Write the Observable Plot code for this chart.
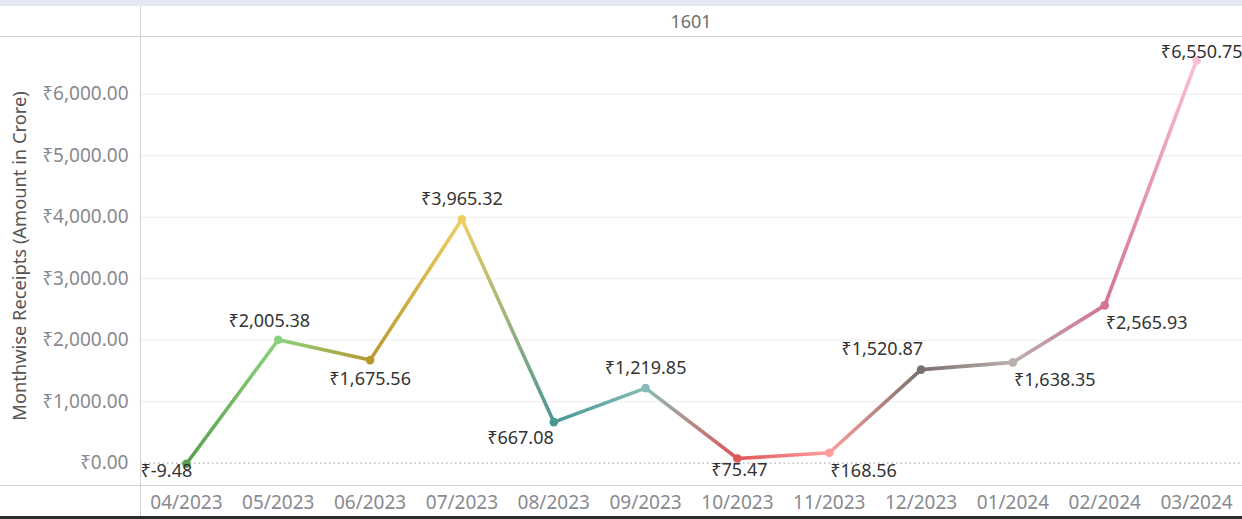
<!DOCTYPE html>
<html>
<head>
<meta charset="utf-8">
<script src="https://cdn.jsdelivr.net/npm/d3@7"></script>
<script src="https://cdn.jsdelivr.net/npm/@observablehq/plot@0.6"></script>
<style>
  html, body { margin: 0; padding: 0; background: #fff; }
  #wrap { position: relative; width: 1242px; height: 519px; overflow: hidden; background: #fff; font-family: "Noto Sans", sans-serif; }
  .band { position: absolute; left: 0; top: 0; width: 1242px; height: 6px; background: #e3e7f0; }
  .header { position: absolute; left: 140px; top: 6px; width: 1102px; height: 30px; line-height: 31px; text-align: center; color: #6e6e6e; font-size: 18px; border-bottom: 1px solid #d2d2d2; }
  .hline { position: absolute; left: 0; width: 140px; height: 1px; background: #d2d2d2; }
  .vline { position: absolute; left: 140px; top: 6px; width: 1px; height: 510px; background: #d2d2d2; }
  .bline { position: absolute; left: 0; top: 485px; width: 1242px; height: 1px; background: #d2d2d2; }
  .bottom { position: absolute; left: 0; top: 516px; width: 1242px; height: 3px; background: #2b2b2b; }
  .ytitle { position: absolute; left: 18px; top: 256px; transform: translate(-50%, -50%) rotate(-90deg); white-space: nowrap; color: #555; font-size: 18.3px; }
  #chart { position: absolute; left: 0; top: 37px; }
</style>
</head>
<body>
<div id="wrap">
  <div class="band"></div>
  <div class="header" id="header"></div>
  <div class="hline" style="top:36px"></div>
  <div class="ytitle" id="ytitle"></div>
  <div id="chart"></div>
  <div class="bline"></div>
  <div class="vline"></div>
  <div class="bottom"></div>
</div>
<script>
const headerLabel = "1601";
const yTitle = "Monthwise Receipts (Amount in Crore)";
const months = ["04/2023","05/2023","06/2023","07/2023","08/2023","09/2023","10/2023","11/2023","12/2023","01/2024","02/2024","03/2024"];
const receipts = [-9.48, 2005.38, 1675.56, 3965.32, 667.08, 1219.85, 75.47, 168.56, 1520.87, 1638.35, 2565.93, 6550.75];
const pointColors = ["#59a14f","#8cd17d","#b6992d","#f1ce63","#499894","#86bcb6","#e15759","#ff9d9a","#79706e","#bab0ac","#d37295","#fabfd2"];
const labelPlacement = ["paneLeft","aboveLeft","below","above","belowEnd","above","belowNear","belowStart","aboveEnd","belowStart","belowStart","paneRight"];
const yTicks = [0, 1000, 2000, 3000, 4000, 5000, 6000];

// label placement styles (Tableau-like collision avoidance)
const placements = {
  above:      {textAnchor: "middle", dx: 0,   dy: -20},
  aboveLeft:  {textAnchor: "middle", dx: -9,  dy: -19},
  aboveEnd:   {textAnchor: "end",    dx: 2,   dy: -20},
  below:      {textAnchor: "middle", dx: 0,   dy: 19},
  belowNear:  {textAnchor: "middle", dx: 2,   dy: 12},
  belowStart: {textAnchor: "start",  dx: 1,   dy: 18},
  belowEnd:   {textAnchor: "end",    dx: 0,   dy: 16},
  paneLeft:   {textAnchor: "start",  dx: -46, dy: 8},
  paneRight:  {textAnchor: "end",    dx: 46,  dy: -8}
};

document.getElementById("header").textContent = headerLabel;
document.getElementById("ytitle").textContent = yTitle;

const rupee = v => "₹" + d3.format(",.2f")(v).replace("−", "-");

const data = months.map((m, i) => ({month: m, value: receipts[i], color: pointColors[i], place: labelPlacement[i], label: rupee(receipts[i])}));
const segs = d3.pairs(data).map(([a, b], i) => ({a, b, id: "seg" + i}));

const labelMarks = Object.entries(placements).map(([key, p]) =>
  Plot.text(data.filter(d => d.place === key), {
    x: "month", y: "value", text: "label",
    textAnchor: p.textAnchor, dx: p.dx, dy: p.dy,
    fill: "#333", fontSize: 18
  })
);

const chart = Plot.plot({
  width: 1242,
  height: 482,
  marginLeft: 140,
  marginRight: 0,
  marginTop: 0,
  marginBottom: 34,
  style: {fontFamily: "'Noto Sans', sans-serif", fontSize: "19px", color: "#878a90", background: "transparent", overflow: "visible"},
  x: {type: "point", domain: months, padding: 0.5, round: false, label: null, tickSize: 0, tickPadding: 10},
  y: {domain: [-364, 6923], ticks: yTicks, tickFormat: rupee, tickSize: 0, tickPadding: 12, label: null},
  color: {type: "identity"},
  marks: [
    Plot.ruleY(yTicks.filter(t => t !== 0), {stroke: "#ededed", strokeWidth: 1}),
    Plot.ruleY([0], {stroke: "#9a9a9a", strokeDasharray: "1.5,3"}),
    Plot.link(segs, {
      x1: d => d.a.month, y1: d => d.a.value,
      x2: d => d.b.month, y2: d => d.b.value,
      stroke: d => "url(#" + d.id + ")",
      strokeWidth: 3.6, strokeLinecap: "round"
    }),
    Plot.dot(data, {x: "month", y: "value", fill: "color", r: 4.3}),
    ...labelMarks
  ]
});

const defs = d3.select(chart).insert("defs", ":first-child");
segs.forEach(s => {
  const g = defs.append("linearGradient").attr("id", s.id).attr("x1", 0).attr("y1", 0).attr("x2", 1).attr("y2", 0);
  g.append("stop").attr("offset", 0).attr("stop-color", s.a.color);
  g.append("stop").attr("offset", 1).attr("stop-color", s.b.color);
});

document.getElementById("chart").appendChild(chart);
</script>
</body>
</html>
